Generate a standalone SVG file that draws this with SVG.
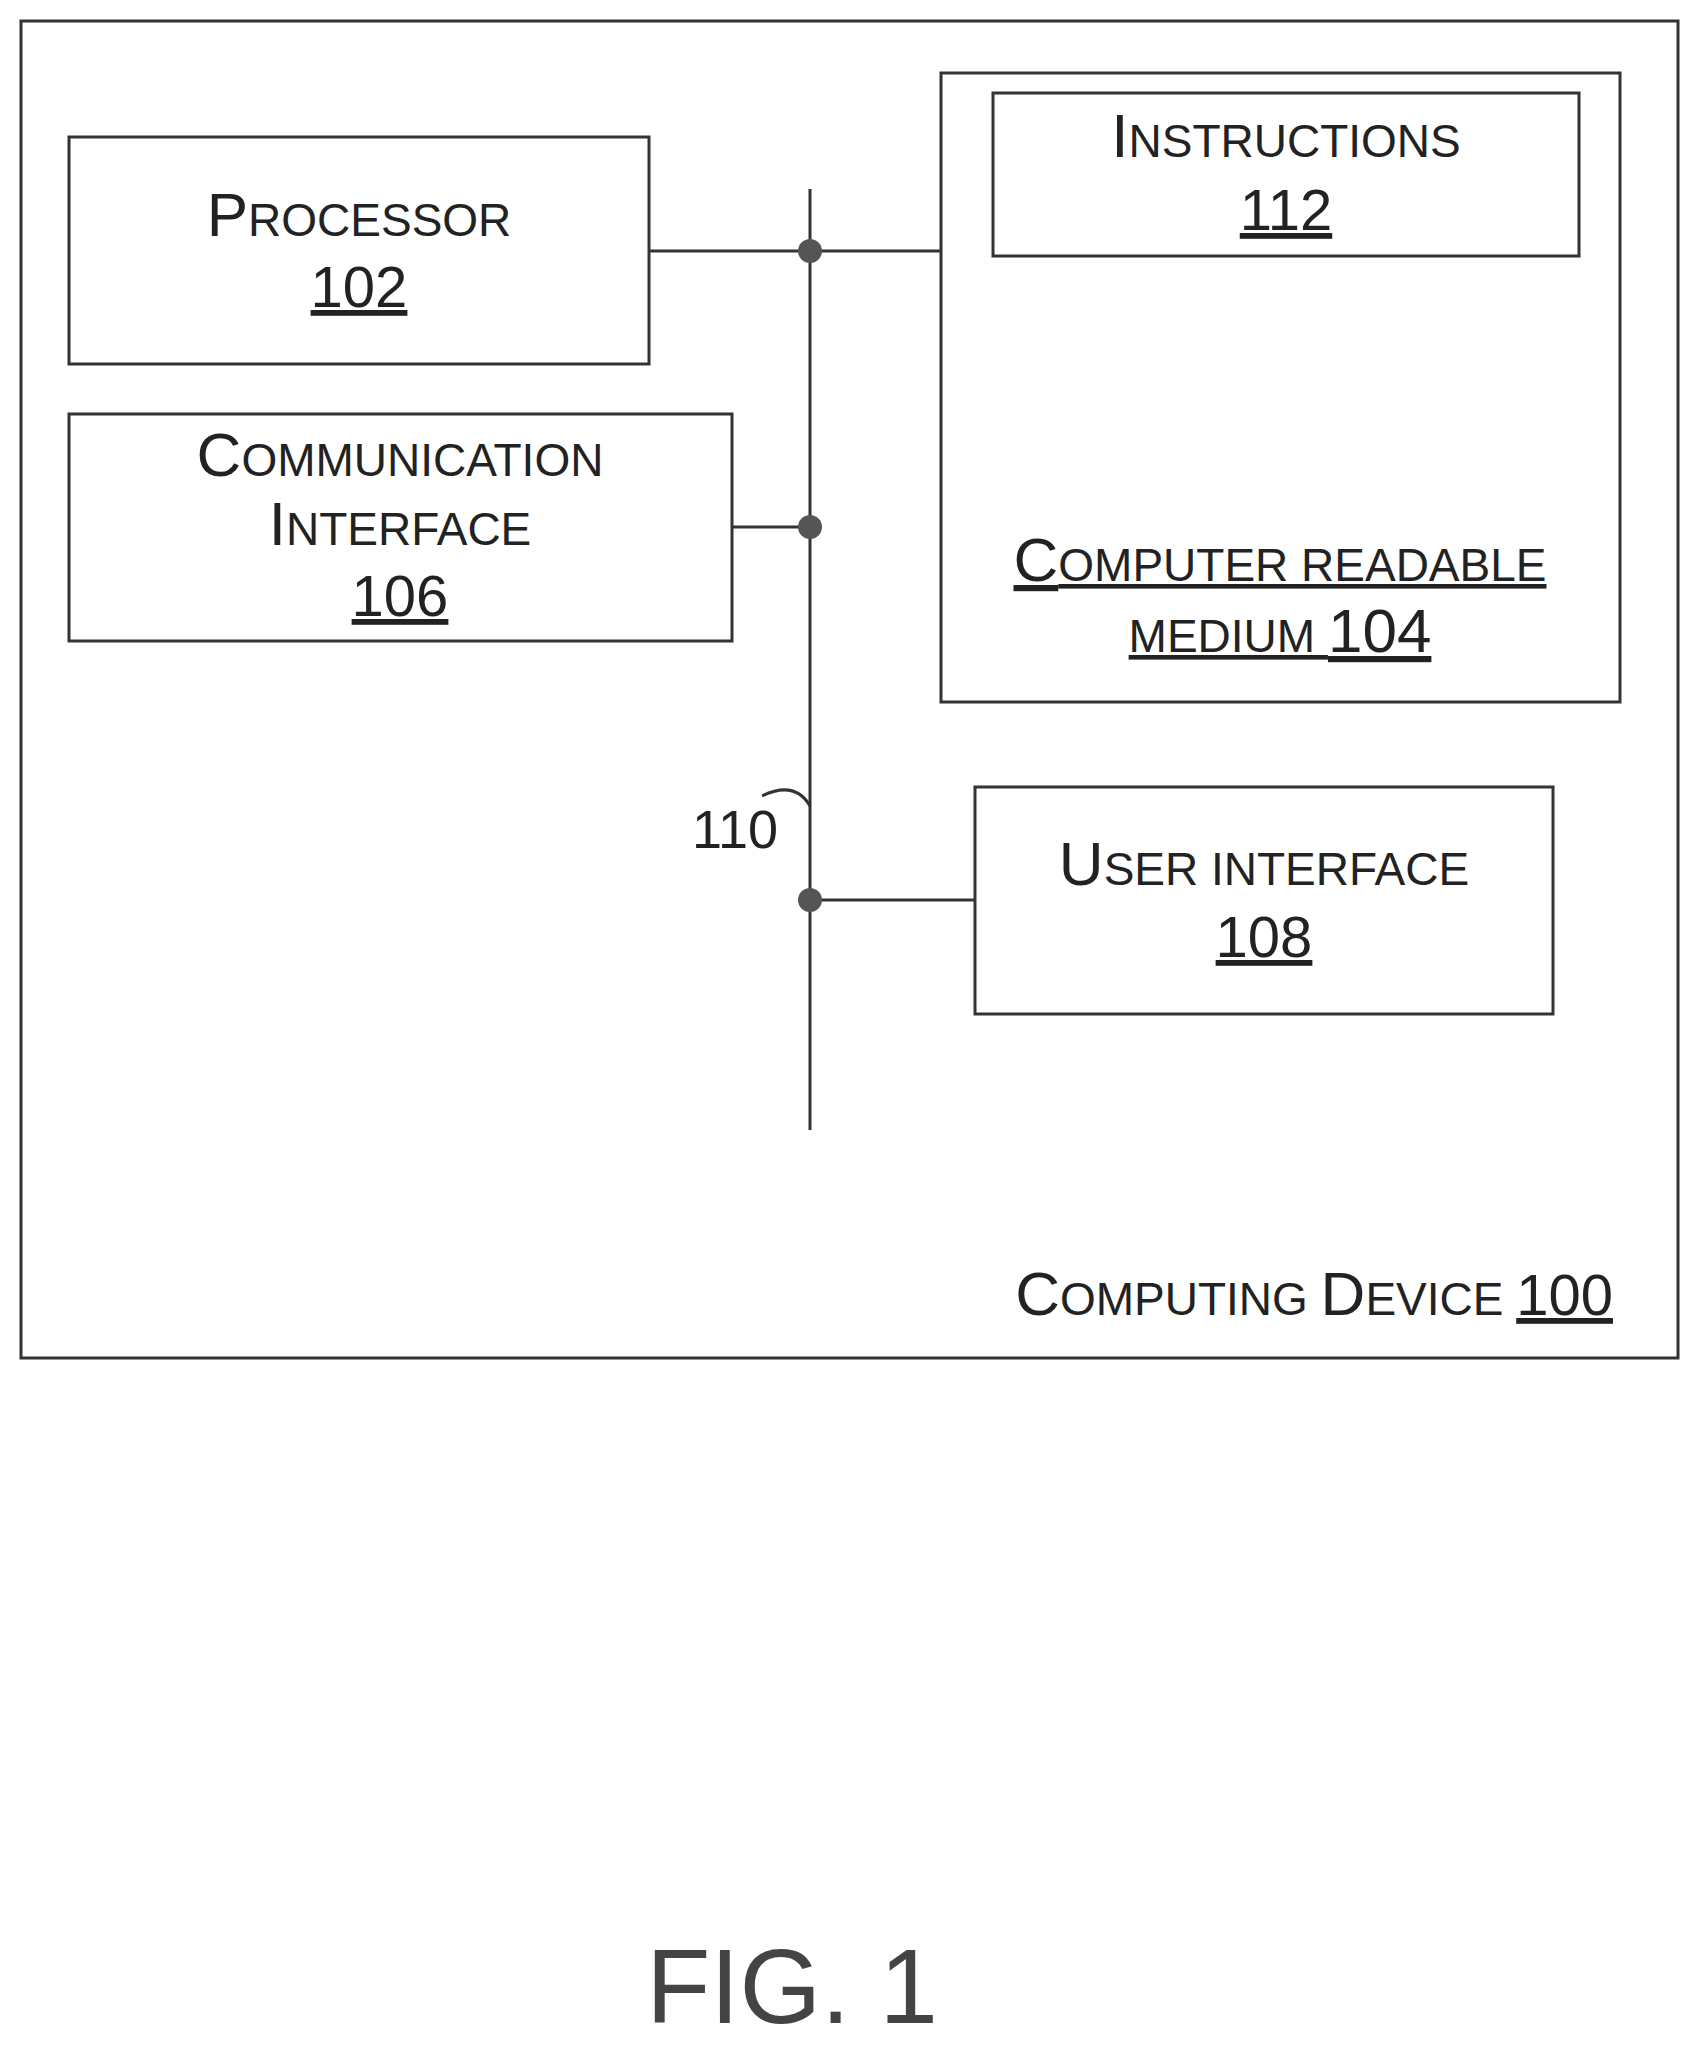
<svg xmlns="http://www.w3.org/2000/svg" width="1704" height="2050" viewBox="0 0 1704 2050">
<style>
rect{fill:none;stroke:#333;stroke-width:3}
line,path{stroke:#333;stroke-width:3;fill:none}
text{font-family:"Liberation Sans",Arial,sans-serif;fill:#222;text-anchor:middle;font-size:62px}
.s{font-size:46px}
.n{font-size:58px;text-decoration:underline}
</style>
<rect width="1704" height="2050" style="fill:#fff;stroke:none"/>
<g id="computing-device">
<rect x="21" y="21" width="1657" height="1337"/>
<text x="1613" y="1315" style="text-anchor:end">C<tspan class="s">OMPUTING </tspan>D<tspan class="s">EVICE </tspan><tspan class="n">100</tspan></text>
</g>
<g id="processor">
<rect x="69" y="137" width="580" height="227"/>
<text x="359" y="236">P<tspan class="s">ROCESSOR</tspan></text>
<text x="359" y="307" class="n">102</text>
</g>
<g id="comm">
<rect x="69" y="414" width="663" height="227"/>
<text x="400" y="476">C<tspan class="s">OMMUNICATION</tspan></text>
<text x="400" y="545">I<tspan class="s">NTERFACE</tspan></text>
<text x="400" y="616" class="n">106</text>
</g>
<g id="crm">
<rect x="941" y="73" width="679" height="629"/>
<text x="1280" y="581" style="text-decoration:underline">C<tspan class="s">OMPUTER READABLE</tspan></text>
<text x="1280" y="652" style="text-decoration:underline"><tspan class="s">MEDIUM </tspan>104</text>
</g>
<g id="instructions">
<rect x="993" y="93" width="586" height="163"/>
<text x="1286" y="157">I<tspan class="s">NSTRUCTIONS</tspan></text>
<text x="1286" y="230" class="n">112</text>
</g>
<g id="user">
<rect x="975" y="787" width="578" height="227"/>
<text x="1264" y="885">U<tspan class="s">SER INTERFACE</tspan></text>
<text x="1264" y="957" class="n">108</text>
</g>
<g id="connectors">
<line x1="810" y1="189" x2="810" y2="1130"/>
<line x1="649" y1="251" x2="941" y2="251"/>
<line x1="732" y1="527" x2="810" y2="527"/>
<line x1="810" y1="900" x2="975" y2="900"/>
<circle cx="810" cy="251" r="12" fill="#555"/>
<circle cx="810" cy="527" r="12" fill="#555"/>
<circle cx="810" cy="900" r="12" fill="#555"/>
<path d="M762 796 Q795 780 810 806"/>
<text x="735" y="848" style="font-size:54px">110</text>
</g>
<text x="792" y="2023" style="font-size:105px;fill:#444">FIG. 1</text>
</svg>
